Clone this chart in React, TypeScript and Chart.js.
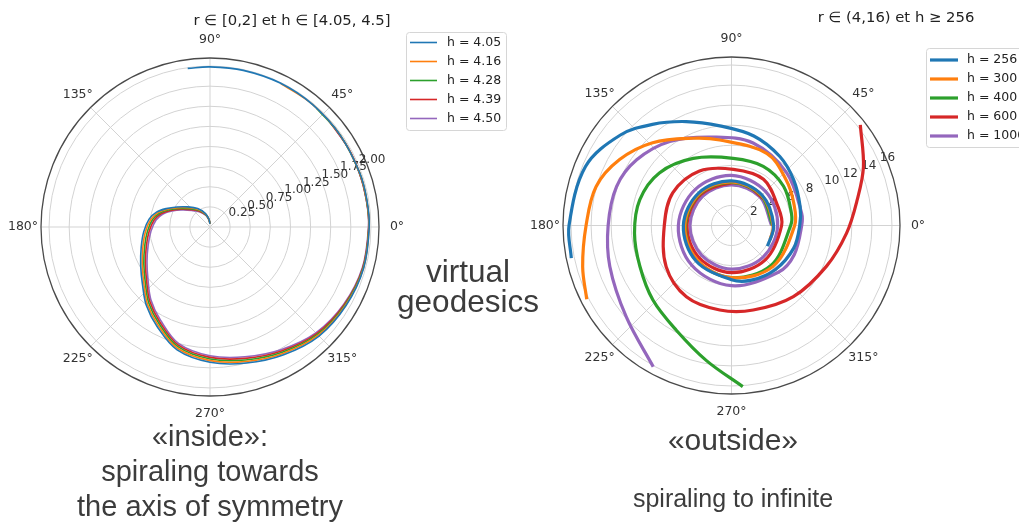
import React, { useEffect, useRef } from "react";
import { Chart, registerables } from "chart.js";

Chart.register(...registerables);

// ---------------- shared ticks ----------------
const angleTicks = [0, 45, 90, 135, 180, 225, 270, 315];
const angleTickLabels = ["0°", "45°", "90°", "135°", "180°", "225°", "270°", "315°"];
const seriesColors = ["#1f77b4", "#ff7f0e", "#2ca02c", "#d62728", "#9467bd"];

// ---------------- left plot: r in [0,2], h in [4.05, 4.5] ----------------
const leftTitle = "r ∈ [0,2] et h ∈ [4.05, 4.5]";
const leftLabels = ["h = 4.05", "h = 4.16", "h = 4.28", "h = 4.39", "h = 4.50"];
const leftRadialTicks = [0.25, 0.5, 0.75, 1.0, 1.25, 1.5, 1.75, 2.0];
const leftRadialTickLabels = ["0.25", "0.50", "0.75", "1.00", "1.25", "1.50", "1.75", "2.00"];

// angles in degrees (unwrapped, clockwise), radii
const leftTheta405 = [98, 90, 78, 64, 50, 35, 20, 10, 0, -15, -30, -45, -60, -75, -90, -105, -118, -129, -139.5, -151, -163.8, -176, -187.4, -195.5, -202.8, -211.3, -222.5, -236.3, -250.8, -262, -270];
const leftR405 = [1.99, 1.99, 1.99, 1.99, 1.985, 1.98, 1.978, 1.978, 1.978, 1.976, 1.952, 1.916, 1.832, 1.75, 1.68, 1.58, 1.4, 1.256, 1.103, 0.985, 0.89, 0.825, 0.763, 0.69, 0.59, 0.48, 0.37, 0.275, 0.18, 0.1, 0.04];

const leftTheta416 = [64, 50, 35, 20, 10, 0, -15, -30, -45, -60, -75, -90, -105, -118, -129, -139.5, -151, -163.8, -176, -187.4, -195.5, -202.8, -211.3, -222.5, -236.3, -250.8, -262, -270];
const leftR416 = [1.99, 1.985, 1.98, 1.977, 1.976, 1.976, 1.974, 1.944, 1.902, 1.814, 1.73, 1.66, 1.56, 1.378, 1.234, 1.081, 0.963, 0.868, 0.803, 0.741, 0.669, 0.571, 0.462, 0.353, 0.262, 0.173, 0.097, 0.04];

const leftTheta428 = [48, 35, 20, 10, 0, -15, -30, -45, -60, -75, -90, -105, -118, -129, -139.5, -151, -163.8, -176, -187.4, -195.5, -202.8, -211.3, -222.5, -236.3, -250.8, -262, -270];
const leftR428 = [1.983, 1.98, 1.976, 1.974, 1.974, 1.97, 1.936, 1.888, 1.796, 1.71, 1.64, 1.54, 1.355, 1.211, 1.058, 0.94, 0.845, 0.78, 0.72, 0.648, 0.551, 0.444, 0.337, 0.25, 0.166, 0.094, 0.04];

const leftTheta439 = [42, 30, 20, 10, 0, -15, -30, -45, -60, -75, -90, -105, -118, -129, -139.5, -151, -163.8, -176, -187.4, -195.5, -202.8, -211.3, -222.5, -236.3, -250.8, -262, -270];
const leftR439 = [1.98, 1.978, 1.975, 1.972, 1.972, 1.965, 1.928, 1.874, 1.778, 1.69, 1.62, 1.52, 1.333, 1.189, 1.036, 0.918, 0.823, 0.758, 0.698, 0.627, 0.532, 0.425, 0.32, 0.237, 0.158, 0.091, 0.04];

const leftTheta450 = [38, 28, 18, 8, 0, -15, -30, -45, -60, -75, -90, -105, -118, -129, -139.5, -151, -163.8, -176, -187.4, -195.5, -202.8, -211.3, -222.5, -236.3, -250.8, -262, -270];
const leftR450 = [1.978, 1.976, 1.974, 1.972, 1.97, 1.96, 1.92, 1.86, 1.76, 1.67, 1.6, 1.5, 1.31, 1.166, 1.013, 0.895, 0.8, 0.735, 0.676, 0.606, 0.512, 0.407, 0.303, 0.224, 0.151, 0.088, 0.04];

// ---------------- right plot: r in (4,16), h >= 256 ----------------
const rightTitle = "r ∈ (4,16) et h ≥ 256";
const rightLabels = ["h = 256", "h = 300", "h = 400", "h = 600", "h = 1000"];
const rightRadialTicks = [2, 4, 6, 8, 10, 12, 14, 16];
const rightRadialTickLabels = ["2", "4", "6", "8", "10", "12", "14", "16"];

const rightTheta256 = [191.5, 180, 158, 141, 128, 113.5, 96.7, 76, 55, 36.5, 15.5, 0, -20, -45, -70, -90, -135, -180, -225, -270, -315, -360, -390];
const rightR256 = [16.3, 16.2, 15.7, 14.3, 12.8, 11.3, 10.0, 9.2, 8.4, 7.7, 7.1, 6.8, 6.6, 6.2, 5.8, 5.4, 5.0, 4.8, 4.6, 4.45, 4.3, 4.2, 4.15];

const rightTheta300 = [207, 195.5, 180, 164, 149.5, 133.6, 113.7, 97.8, 64, 40, 20, 0, -45, -90, -135, -180, -225, -270, -315, -360, -380];
const rightR300 = [16.2, 15.4, 14.5, 14.05, 12.95, 11.4, 9.5, 8.6, 8.0, 7.1, 6.6, 6.3, 5.8, 5.2, 4.85, 4.65, 4.5, 4.35, 4.25, 4.15, 4.1];

const rightTheta400 = [274, 259.5, 242.2, 223.5, 204.1, 184.5, 164.4, 143.9, 119.7, 88.6, 61.8, 37, 11.6, 0, -45, -90, -135, -180, -225, -270, -315, -360];
const rightR400 = [16.1, 13.7, 11.8, 10.8, 10.0, 9.7, 9.5, 8.9, 7.7, 6.7, 6.7, 6.5, 6.1, 5.9, 5.6, 5.2, 4.9, 4.6, 4.45, 4.3, 4.2, 4.1];

const rightTheta600 = [38, 24, 11.6, -3.8, -23.3, -49, -75.6, -97.9, -122.4, -147.8, -180, -209, -239.6, -272, -304.7, -337.8, -360, -405, -450, -495, -540, -585, -630, -655, -680];
const rightR600 = [16.3, 14.4, 12.8, 11.5, 10.3, 9.4, 8.7, 8.5, 8.4, 7.7, 6.7, 6.7, 6.3, 5.6, 5.6, 5.0, 5.0, 4.8, 4.7, 4.55, 4.45, 4.35, 4.25, 4.2, 4.15];

const rightTheta1000 = [241, 221, 198.6, 180, 161.3, 145.3, 126.3, 101.7, 75.3, 43.6, 10, 0, -25, -45, -90, -135, -180, -225, -270, -315, -360, -405, -450, -495, -540, -585, -630, -675, -720];
const rightR1000 = [16.1, 13.9, 12.8, 12.3, 12.1, 11.5, 10.4, 9.0, 8.5, 7.6, 7.1, 7.0, 6.9, 6.6, 6.0, 5.6, 5.3, 5.1, 5.0, 4.8, 4.6, 4.45, 4.35, 4.2, 4.15, 4.1, 4.05, 4.02, 4.0];

// polar -> cartesian table for the scatter scales
function toXY(theta: number[], r: number[]) {
  return theta.map((t, i) => ({
    x: r[i] * Math.cos((t * Math.PI) / 180),
    y: r[i] * Math.sin((t * Math.PI) / 180),
  }));
}

const polarFramePlugin = {
  id: "polarFrame",
  beforeDatasetsDraw(chart: any, _args: any, opts: any) {
    const ctx = chart.ctx as CanvasRenderingContext2D;
    const xs = chart.scales.x;
    const ys = chart.scales.y;
    const cx = xs.getPixelForValue(0);
    const cy = ys.getPixelForValue(0);
    const R = xs.getPixelForValue(opts.rmax) - cx;
    ctx.save();
    ctx.strokeStyle = "#d3d3d3";
    ctx.lineWidth = 1;
    for (const t of opts.rTicks) {
      const rp = xs.getPixelForValue(t) - cx;
      ctx.beginPath();
      ctx.arc(cx, cy, rp, 0, Math.PI * 2);
      ctx.stroke();
    }
    for (const a of opts.aTicks) {
      const rad = (a * Math.PI) / 180;
      ctx.beginPath();
      ctx.moveTo(cx, cy);
      ctx.lineTo(cx + R * Math.cos(rad), cy - R * Math.sin(rad));
      ctx.stroke();
    }
    ctx.strokeStyle = "#4a4a4a";
    ctx.lineWidth = 1.3;
    ctx.beginPath();
    ctx.arc(cx, cy, R, 0, Math.PI * 2);
    ctx.stroke();
    ctx.fillStyle = "#333";
    ctx.font = "12.5px 'DejaVu Sans'";
    ctx.textAlign = "center";
    ctx.textBaseline = "middle";
    opts.aTicks.forEach((a: number, i: number) => {
      const rad = (a * Math.PI) / 180;
      const d = R + opts.labelGap;
      ctx.fillText(opts.aLabels[i], cx + d * Math.cos(rad), cy - d * Math.sin(rad));
    });
    ctx.font = "12px 'DejaVu Sans'";
    ctx.textAlign = "left";
    ctx.textBaseline = "bottom";
    const ra = (22.5 * Math.PI) / 180;
    opts.rTicks.forEach((t: number, i: number) => {
      const rp = xs.getPixelForValue(t) - cx;
      ctx.fillText(opts.rLabels[i], cx + rp * Math.cos(ra), cy - rp * Math.sin(ra));
    });
    ctx.restore();
  },
  afterDatasetsDraw(chart: any, _args: any, opts: any) {
    const ctx = chart.ctx as CanvasRenderingContext2D;
    ctx.save();
    ctx.fillStyle = "#222";
    ctx.font = "14.8px 'DejaVu Sans'";
    ctx.textAlign = "center";
    ctx.textBaseline = "middle";
    ctx.fillText(opts.title, opts.titleX, opts.titleY);
    const lg = opts.legend;
    ctx.fillStyle = "rgba(255,255,255,0.85)";
    ctx.strokeStyle = "#d6d6d6";
    ctx.lineWidth = 1;
    ctx.beginPath();
    (ctx as any).roundRect(lg.x + 0.5, lg.y + 0.5, lg.w, lg.h, 3);
    ctx.fill();
    ctx.stroke();
    ctx.font = "12.5px 'DejaVu Sans'";
    ctx.textAlign = "left";
    ctx.textBaseline = "middle";
    chart.data.datasets.forEach((ds: any, i: number) => {
      const y = lg.row0 + i * lg.dy;
      ctx.strokeStyle = ds.borderColor;
      ctx.lineWidth = ds.borderWidth;
      ctx.beginPath();
      ctx.moveTo(lg.lineX0, y);
      ctx.lineTo(lg.lineX1, y);
      ctx.stroke();
      ctx.fillStyle = "#222";
      ctx.fillText(ds.label, lg.textX, y);
    });
    ctx.restore();
  },
};

function makeConfig(
  series: { theta: number[]; r: number[] }[],
  labels: string[],
  width: number,
  rmax: number,
  padding: { left: number; top: number; right: number; bottom: number },
  frame: any
) {
  return {
    type: "scatter" as const,
    data: {
      datasets: series.map((s, i) => ({
        label: labels[i],
        data: toXY(s.theta, s.r),
        showLine: true,
        borderColor: seriesColors[i],
        backgroundColor: seriesColors[i],
        borderWidth: width,
        pointRadius: 0,
        pointHoverRadius: 0,
        tension: 0.35,
        fill: false,
        clip: false as any,
      })),
    },
    options: {
      responsive: false,
      maintainAspectRatio: false,
      animation: false as const,
      events: [] as any,
      layout: { padding },
      scales: {
        x: { type: "linear" as const, min: -rmax, max: rmax, display: false },
        y: { type: "linear" as const, min: -rmax, max: rmax, display: false },
      },
      plugins: {
        legend: { display: false },
        tooltip: { enabled: false },
        polarFrame: { rmax, ...frame },
      },
    },
    plugins: [polarFramePlugin],
  };
}

function PolarCanvas(props: { config: any; left: number; width: number; height: number }) {
  const ref = useRef<HTMLCanvasElement>(null);
  useEffect(() => {
    const chart = new Chart(ref.current as HTMLCanvasElement, props.config);
    return () => chart.destroy();
  }, []);
  return (
    <canvas
      ref={ref}
      width={props.width}
      height={props.height}
      style={{ position: "absolute", left: props.left, top: 0, width: props.width, height: props.height }}
    />
  );
}

export default function App() {
  const leftConfig = makeConfig(
    [
      { theta: leftTheta405, r: leftR405 },
      { theta: leftTheta416, r: leftR416 },
      { theta: leftTheta428, r: leftR428 },
      { theta: leftTheta439, r: leftR439 },
      { theta: leftTheta450, r: leftR450 },
    ],
    leftLabels,
    1.6,
    2.1,
    { left: 41, top: 58, right: 141, bottom: 128 },
    {
      rTicks: leftRadialTicks,
      rLabels: leftRadialTickLabels,
      aTicks: angleTicks,
      aLabels: angleTickLabels,
      labelGap: 18,
      title: leftTitle,
      titleX: 292,
      titleY: 21,
      legend: { x: 406, y: 32, w: 100, h: 98, row0: 42.5, dy: 19, lineX0: 410, lineX1: 437, textX: 447 },
    }
  );
  const rightConfig = makeConfig(
    [
      { theta: rightTheta256, r: rightR256 },
      { theta: rightTheta300, r: rightR300 },
      { theta: rightTheta400, r: rightR400 },
      { theta: rightTheta600, r: rightR600 },
      { theta: rightTheta1000, r: rightR1000 },
    ],
    rightLabels,
    3.2,
    16.8,
    { left: 43, top: 57, right: 119, bottom: 130 },
    {
      rTicks: rightRadialTicks,
      rLabels: rightRadialTickLabels,
      aTicks: angleTicks,
      aLabels: angleTickLabels,
      labelGap: 18,
      title: rightTitle,
      titleX: 376,
      titleY: 18,
      legend: { x: 406, y: 48, w: 120, h: 99, row0: 60, dy: 19, lineX0: 410, lineX1: 438, textX: 447 },
    }
  );

  const big: React.CSSProperties = {
    position: "absolute",
    fontFamily: "'Liberation Sans', Arial, sans-serif",
    color: "#3c3c3c",
    textAlign: "center",
    whiteSpace: "nowrap",
  };

  return (
    <div style={{ position: "absolute", left: 0, top: 0, width: 1019, height: 524, background: "#fff", overflow: "hidden" }}>
      <PolarCanvas config={leftConfig} left={0} width={520} height={524} />
      <PolarCanvas config={rightConfig} left={520} width={499} height={524} />
      <div style={{ ...big, left: 368, top: 256, width: 200, fontSize: 31.5, lineHeight: "30px" }}>
        virtual
        <br />
        geodesics
      </div>
      <div style={{ ...big, left: 10, top: 419, width: 400, fontSize: 29, lineHeight: "35px" }}>
        «inside»:
        <br />
        spiraling towards
        <br />
        the axis of symmetry
      </div>
      <div style={{ ...big, left: 533, top: 422, width: 400, fontSize: 30, lineHeight: "35px" }}>«outside»</div>
      <div style={{ ...big, left: 533, top: 481, width: 400, fontSize: 25, lineHeight: "35px" }}>spiraling to infinite</div>
    </div>
  );
}
